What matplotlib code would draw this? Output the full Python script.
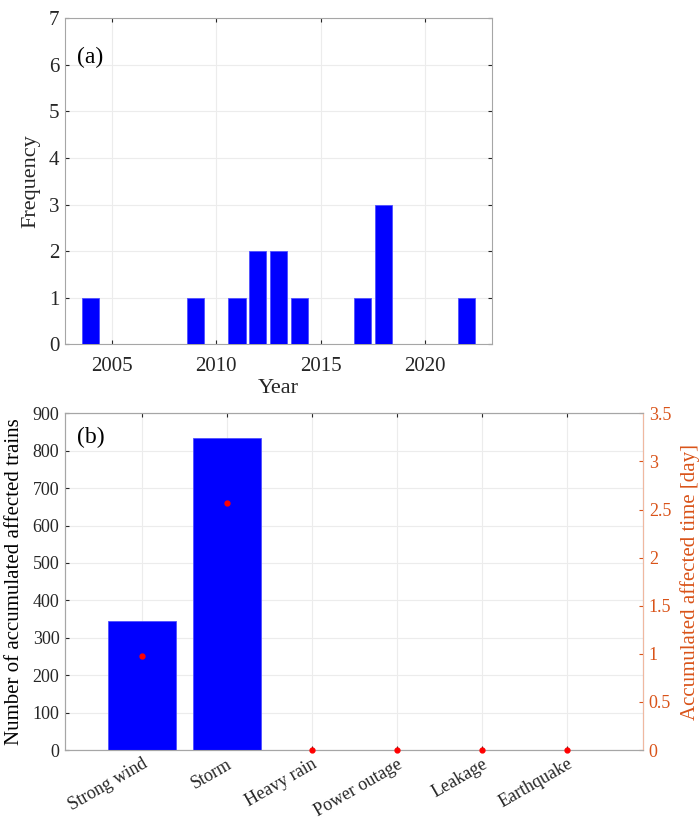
import matplotlib
matplotlib.use("Agg")
import matplotlib.pyplot as plt
import numpy as np

plt.rcParams["font.family"] = ["Liberation Serif", "DejaVu Serif"]

# (a) events per year
years = [2004, 2009, 2011, 2012, 2013, 2014, 2017, 2018, 2022]
frequency = [1, 1, 1, 2, 2, 1, 1, 3, 1]

# (b) per disaster type
categories = ["Strong wind", "Storm", "Heavy rain", "Power outage", "Leakage", "Earthquake"]
affected_trains = [345, 833, 0, 0, 0, 0]
affected_days = [0.98, 2.57, 0, 0, 0, 0]

TXT = "#262626"
GRID = "#ececec"
SPINE = "#a6a6a6"
ORANGE = "#d95319"

fig = plt.figure(figsize=(6.99, 8.18), dpi=100)

# ---- panel (a)
ax1 = fig.add_axes([0.093, 0.5791, 0.6104, 0.3985])
ax1.bar(years, frequency, width=0.82, color="#0000ff", edgecolor="#5050ff", linewidth=0.6, zorder=3)
ax1.set_xlim(2002.77, 2023.19)
ax1.set_ylim(0, 7)
ax1.set_xticks([2005, 2010, 2015, 2020])
ax1.set_yticks(range(0, 8))
ax1.grid(True, color=GRID, linewidth=0.8, zorder=0)
ax1.set_xlabel("Year", fontsize=16, color=TXT, labelpad=2)
ax1.set_ylabel("Frequency", fontsize=16, color=TXT, labelpad=6)
ax1.tick_params(labelsize=15, colors=TXT, direction="in", length=3,
                top=True, right=True, pad=4)
ax1.tick_params(axis="x", pad=9)
for sp in ax1.spines.values():
    sp.set_color(SPINE)
ax1.text(0.028, 0.881, "(a)", transform=ax1.transAxes, fontsize=17,
         color="black", ha="left", va="center")

# ---- panel (b)
ax2 = fig.add_axes([0.093, 0.0831, 0.8273, 0.4116])
x = np.arange(1, len(categories) + 1)
ax2.bar(x, affected_trains, width=0.8, color="#0000ff", edgecolor="#5050ff", linewidth=0.6, zorder=3)
ax2.set_xlim(0.1, 6.9)
ax2.set_ylim(0, 900)
ax2.set_yticks(range(0, 901, 100))
ax2.set_xticks(x)
ax2.set_xticklabels(categories, rotation=30, ha="right", va="top", rotation_mode="anchor")
ax2.grid(True, color=GRID, linewidth=0.8, zorder=0)
ax2.set_ylabel("Number of accumulated affected trains", fontsize=15, color="black", labelpad=6)
ax2.tick_params(labelsize=13, colors=TXT, direction="in", length=3, top=True, pad=4)
ax2.tick_params(axis="x", pad=4)
for sp in ax2.spines.values():
    sp.set_color(SPINE)
ax2.text(0.02, 0.9275, "(b)", transform=ax2.transAxes, fontsize=17,
         color="black", ha="left", va="center")

ax3 = ax2.twinx()
ax3.plot(x, affected_days, linestyle="none", marker="o", markersize=3.5,
         color="red", zorder=5, clip_on=False)
ax3.set_ylim(0, 3.5)
ax3.set_yticks(np.arange(0, 3.51, 0.5))
ax3.set_yticklabels(["0", "0.5", "1", "1.5", "2", "2.5", "3", "3.5"])
ax3.set_ylabel("Accumulated affected time [day]", fontsize=15, color=ORANGE, labelpad=6)
ax3.tick_params(axis="y", labelsize=13, colors=ORANGE, direction="in", length=3, pad=4)
for sp in ax3.spines.values():
    sp.set_color(SPINE)
ax3.spines["right"].set_color("#f0b8a0")

fig.savefig("out.png", dpi=100)
